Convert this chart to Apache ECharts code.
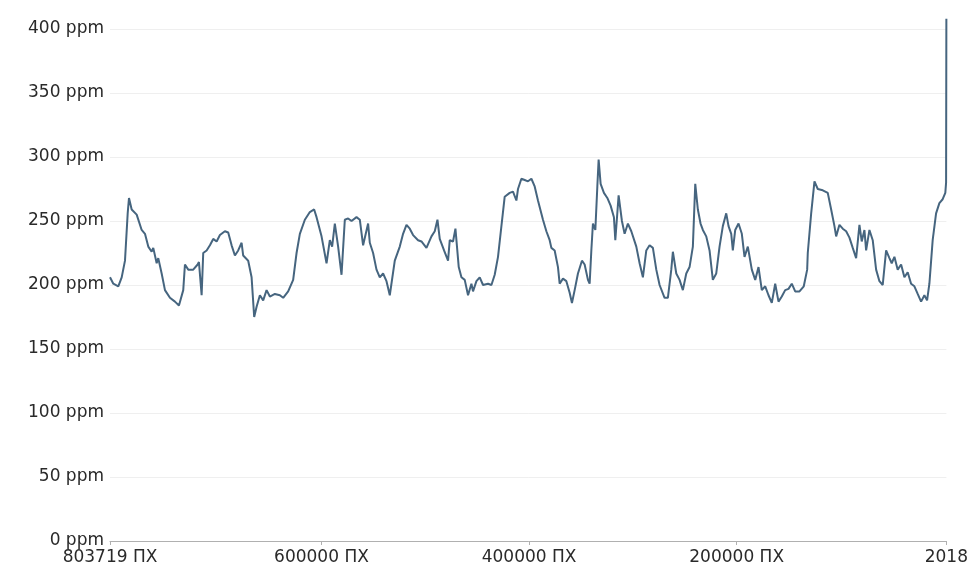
<!DOCTYPE html>
<html>
<head>
<meta charset="utf-8">
<script src="https://cdn.jsdelivr.net/npm/echarts@6/dist/echarts.min.js"></script>
<style>
html,body{margin:0;padding:0;background:#fff;}
#chart{width:971px;height:572px;}
</style>
</head>
<body>
<div id="chart"></div>
<script>
// Years (negative = BC, "ПХ")
var years = [
-803719,-800542,-795729,-792456,-789279,-786680,-785429,-782830,-778016,-773203,
-770026,-766849,-763577,-762036,-758763,-757223,-753950,-750773,-745960,-741147,
-737296,-733157,-731520,-728343,-723530,-719294,-718043,-715444,-713903,-710631,
-707454,-704277,-701004,-697827,-693014,-689837,-686564,-683388,-680211,-676938,
-675398,-670584,-667312,-664809,-662498,-659321,-656145,-652872,-649695,-644882,
-640068,-636891,-632078,-627265,-623992,-620815,-616002,-611189,-607049,-604739,
-599925,-595112,-591936,-589722,-587123,-583946,-580673,-577496,-574319,-571047,
-566233,-563056,-559880,-555066,-553430,-550253,-546980,-543803,-540627,-537353,
-534177,-529364,-524550,-521374,-518101,-514924,-511747,-506934,-503661,-498848,
-494034,-490858,-488258,-486044,-481905,-478054,-476418,-473241,-470931,-467754,
-465155,-461978,-458801,-455528,-453988,-450715,-447538,-444362,-439548,-436275,
-433099,-429922,-426649,-423472,-418659,-415482,-412209,-410669,-407396,-404219,
-401042,-397769,-394593,-391416,-386602,-383329,-380153,-378516,-375340,-372163,
-370526,-367350,-364077,-360900,-358686,-356087,-352910,-349059,-346460,-343283,
-341647,-340010,-338470,-336160,-334234,-332983,-331058,-327881,-324608,-321431,
-318255,-316907,-313730,-310554,-307954,-304778,-301505,-296691,-293514,-290338,
-287065,-283888,-280711,-277438,-274261,-269448,-266271,-262999,-261458,-258185,
-255008,-251832,-248559,-245382,-242205,-239895,-237392,-234793,-232579,-229306,
-226129,-222952,-219679,-216502,-213326,-210053,-207839,-205240,-203699,-201389,
-198212,-195035,-192436,-189259,-185409,-182136,-178959,-175782,-172509,-169333,
-166156,-162883,-159706,-156529,-153256,-150080,-146903,-143630,-139490,-135351,
-132078,-131501,-128228,-125051,-121874,-117061,-112247,-108975,-105798,-104161,
-100984,-97808,-94535,-91358,-88181,-84908,-81731,-79517,-76918,-75282,
-72105,-68928,-65655,-62478,-59302,-56029,-52852,-50638,-48039,-44862,
-41589,-38412,-35236,-31963,-28786,-25609,-22336,-19159,-16560,-14346,
-11169,-7896,-4719,-1543,1000,1750,2018
];
// CO2 concentration (ppm)
var ppm = [
206,201,199,206,219,256,268,259,255,243,
240,230,226,229,217,221,209,196,190,187,
184,196,216,212,212,216,218,192,225,227,
231,236,234,239,242,241,231,223,227,233,
223,219,206,175,183,192,188,196,191,193,
192,190,195,204,225,240,251,257,259,253,
238,217,235,230,248,230,208,251,252,250,
253,251,231,248,233,225,212,206,209,203,
192,219,230,240,247,244,239,235,234,229,
238,242,251,236,227,219,235,234,244,214,
206,204,192,201,195,203,206,200,201,200,
208,222,246,269,272,273,266,275,283,282,
281,283,277,266,251,242,235,229,227,214,
201,205,203,194,186,196,209,219,216,204,
201,227,248,243,277,298,279,272,268,262,
253,235,270,250,240,248,242,230,217,206,
227,231,229,212,200,190,190,212,226,209,
204,196,209,214,230,279,259,248,243,238,
227,204,209,230,246,256,246,240,227,243,
248,240,222,230,212,204,214,196,199,192,
186,201,187,191,196,197,201,195,195,199,
212,225,256,281,275,274,272,259,246,238,
247,244,242,237,229,221,247,234,243,227,
243,235,212,203,200,227,221,217,222,212,
216,206,210,201,199,193,187,192,188,201,
235,256,264,267,272,280,408
];
// X-axis tick positions (years)
var xTicks = [-803719, -600000, -400000, -200000, 2018];
// Y-axis ticks
var yMin = 0, yMax = 400, yStep = 50;

var data = years.map(function (y, i) { return [y, ppm[i]]; });

var chart = echarts.init(document.getElementById('chart'), null, {renderer: 'canvas'});
var font = 'DejaVu Sans';
chart.setOption({
  animation: false,
  backgroundColor: '#ffffff',
  grid: {left: 110, right: 24, top: 29, bottom: 31, containLabel: false},
  xAxis: {
    type: 'value',
    min: xTicks[0],
    max: xTicks[xTicks.length - 1],
    axisLine: {show: true, lineStyle: {color: '#b0b0b0', width: 1}},
    axisTick: {show: true, customValues: xTicks, length: 4, lineStyle: {color: '#b0b0b0'}},
    splitLine: {show: false},
    axisLabel: {
      customValues: xTicks,
      margin: 8,
      color: '#2a2a2a',
      fontFamily: font,
      fontSize: 17,
      formatter: function (v) { return v < 0 ? (-v) + ' ПХ' : String(v); }
    }
  },
  yAxis: {
    type: 'value',
    min: yMin, max: yMax, interval: yStep,
    axisLine: {show: false},
    axisTick: {show: false},
    splitLine: {show: true, lineStyle: {color: '#efefef', width: 1}},
    axisLabel: {
      margin: 6,
      color: '#2a2a2a',
      fontFamily: font,
      fontSize: 17,
      formatter: function (v) { return v + ' ppm'; }
    }
  },
  series: [{
    type: 'line',
    data: data,
    clip: false,
    showSymbol: false,
    symbol: 'none',
    lineStyle: {color: '#46657f', width: 2},
    itemStyle: {color: '#46657f'}
  }]
});
</script>
</body>
</html>
